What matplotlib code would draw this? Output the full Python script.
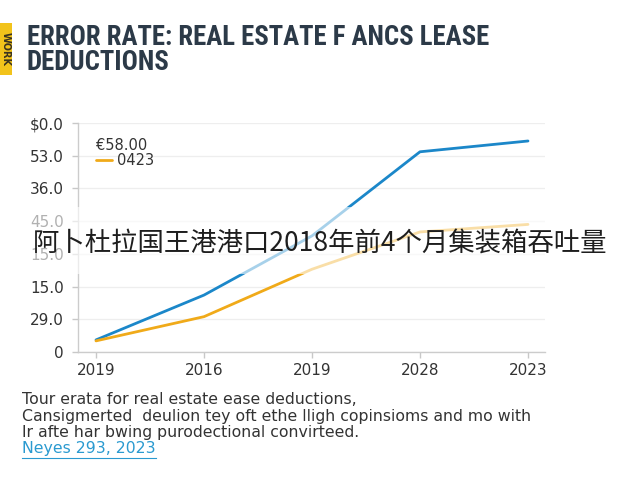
import matplotlib
matplotlib.use("Agg")
import matplotlib.pyplot as plt
from matplotlib import font_manager
from matplotlib.patches import Rectangle
from matplotlib.lines import Line2D

# data (y in internal units, ticks every 10)
years = ["2019", "2016", "2019", "2028", "2023"]
blue_vals = [3.7, 17.4, 35.5, 61.2, 64.5]
orange_vals = [3.4, 10.8, 25.3, 36.7, 39.0]
ytick_vals = [0, 10, 20, 30, 40, 50, 60, 70]
ytick_labels = ["0", "29.0", "15.0", "15.0", "45.0", "36.0", "53.0", "$0.0"]

title_lines = ["ERROR RATE: REAL ESTATE F ANCS LEASE", "DEDUCTIONS"]
legend_title = "€58.00"
legend_label = "0423"
overlay = "阿卜杜拉国王港港口2018年前4个月集装箱吞吐量"
notes = [
    "Tour erata for real estate ease deductions,",
    "Cansigmerted  deulion tey oft ethe lligh copinsioms and mo with",
    "Ir afte har bwing purodectional convirteed.",
]
source = "Neyes 293, 2023"

BLUE = "#1b87c9"
ORANGE = "#f0aa19"
INK = "#2c3a48"

names = {f.name for f in font_manager.fontManager.ttflist}
title_font = "Roboto"
for cand in ["Roboto Condensed", "Open Sans Condensed", "Liberation Sans Narrow",
             "DejaVu Sans Condensed", "Roboto"]:
    if cand in names:
        title_font = cand
        break
body_font = "DejaVu Sans"

fig = plt.figure(figsize=(6.4, 4.8), dpi=100)
W, H = 640, 480


def fx(px):
    return px / W


def fy(py):
    return 1 - py / H


ax = fig.add_axes([fx(78), fy(352), fx(545) - fx(78), fy(123) - fy(352)])
x = list(range(len(years)))
ax.plot(x, blue_vals, color=BLUE, lw=2.0, solid_capstyle="round")
ax.plot(x, orange_vals, color=ORANGE, lw=2.0, solid_capstyle="round", label=legend_label)

ax.set_xlim(-18 / 108, 4 + 17 / 108)
ax.set_ylim(0, 70)
ax.set_xticks(x)
ax.set_xticklabels(years)
ax.set_yticks(ytick_vals)
ax.set_yticklabels(ytick_labels)
ax.tick_params(axis="both", colors="#c8c8c8", labelcolor="#333333", labelsize=11, length=4, width=1)
ax.tick_params(axis="x", pad=4)
ax.tick_params(axis="y", pad=6)
ax.grid(axis="y", color="#eeeeee", lw=0.9)
ax.set_axisbelow(True)
for s in ["top", "right"]:
    ax.spines[s].set_visible(False)
for s in ["left", "bottom"]:
    ax.spines[s].set_color("#cccccc")
    ax.spines[s].set_linewidth(1.0)

leg = ax.legend(title=legend_title, loc="upper left", bbox_to_anchor=(0.022, 0.968),
                frameon=False, fontsize=10.5, title_fontsize=10.5, handlelength=1.1,
                handletextpad=0.35, borderpad=0, labelspacing=0.0, alignment="left")
leg.get_title().set_color("#333333")
for t in leg.get_texts():
    t.set_color("#333333")

# washed-out band across the middle
fig.patches.append(Rectangle((0, fy(274)), 1, fy(207) - fy(274), transform=fig.transFigure,
                             facecolor="white", edgecolor="none", alpha=0.62, zorder=5))
fig.text(0.5, fy(243), overlay, ha="center", va="center", fontsize=19, color="#1e1e1e",
         family=["Noto Sans CJK SC", "DejaVu Sans"], zorder=6)

# title and badge
fig.patches.append(Rectangle((0, fy(75)), fx(12), fy(23) - fy(75), transform=fig.transFigure,
                             facecolor="#f2c31b", edgecolor="none", zorder=3))
fig.text(fx(6), fy(49), "WORK", rotation=-90, ha="center", va="center", fontsize=7,
         color="#3a3320", fontweight="bold", zorder=4)
t1 = fig.text(fx(27), fy(45), title_lines[0], fontsize=18, fontweight="bold", color=INK,
              family=title_font, va="baseline")
t2 = fig.text(fx(27), fy(70), title_lines[1], fontsize=18, fontweight="bold", color=INK,
              family=title_font, va="baseline")

# footnotes
note_texts = []
for i, line in enumerate(notes):
    note_texts.append(fig.text(fx(22), fy(400 + 16.5 * i), line, fontsize=10, color="#333333",
                               family=body_font, va="center"))
src = fig.text(fx(22), fy(449), source, fontsize=10, color="#2a9ad0",
               family=body_font, va="center")

# fit text widths to the reference
fig.canvas.draw()
r = fig.canvas.get_renderer()
k = 463 / t1.get_window_extent(r).width
for t in (t1, t2):
    t.set_fontsize(18 * k)
k = 510 / note_texts[1].get_window_extent(r).width
for t in note_texts + [src]:
    t.set_fontsize(10 * k)

fig.canvas.draw()
bb = src.get_window_extent(fig.canvas.get_renderer())
uy = bb.y0 - 1
fig.lines.append(Line2D([bb.x0 / W, bb.x1 / W], [uy / H, uy / H], transform=fig.transFigure,
                        color="#2a9ad0", lw=0.8))

fig.savefig("out.png", dpi=100)
